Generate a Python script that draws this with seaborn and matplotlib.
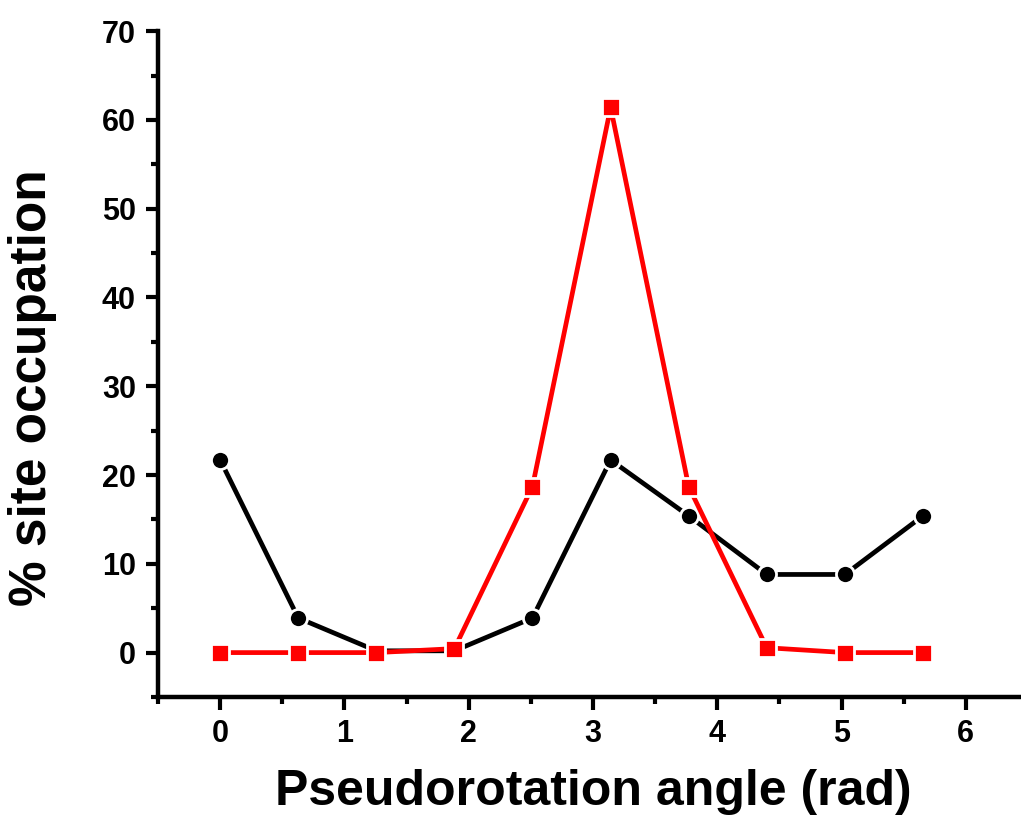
import matplotlib
matplotlib.use('Agg')
import matplotlib.pyplot as plt
from matplotlib.ticker import MultipleLocator
import seaborn as sns
import numpy as np
import pandas as pd

# pseudorotation angles (rad)
angles = [0.0, 0.628, 1.257, 1.885, 2.513, 3.142, 3.770, 4.398, 5.027, 5.655]
black_occ = [21.7, 3.9, 0.2, 0.2, 3.9, 21.7, 15.4, 8.8, 8.8, 15.4]
red_occ = [0.0, 0.0, 0.0, 0.45, 18.7, 61.4, 18.7, 0.55, 0.0, 0.0]

sns.set_style('white')
plt.rcParams['font.family'] = ['Liberation Sans', 'DejaVu Sans']
plt.rcParams['font.weight'] = 'bold'
plt.rcParams['text.color'] = 'black'
plt.rcParams['axes.labelcolor'] = 'black'
plt.rcParams['xtick.color'] = 'black'
plt.rcParams['ytick.color'] = 'black'

fig = plt.figure(figsize=(10.21, 8.17), dpi=100)
ax = fig.add_axes([0.1548, 0.1469, 0.852, 0.815])

sns.lineplot(x=angles, y=black_occ, ax=ax, color='black', lw=3.4, sort=False,
             marker='o', markersize=13, markeredgecolor='white', markeredgewidth=2,
             markerfacecolor='black', zorder=3)
sns.lineplot(x=angles, y=red_occ, ax=ax, color='red', lw=3.4, sort=False,
             marker='s', markersize=12.5, markeredgecolor='white', markeredgewidth=2,
             markerfacecolor='red', zorder=4)

ax.set_xlim(-0.5, 6.5)
ax.set_ylim(-5, 70)
ax.xaxis.set_major_locator(MultipleLocator(1))
ax.xaxis.set_minor_locator(MultipleLocator(0.5))
ax.yaxis.set_major_locator(MultipleLocator(10))
ax.yaxis.set_minor_locator(MultipleLocator(5))

for s in ['top', 'right']:
    ax.spines[s].set_visible(False)
for s in ['left', 'bottom']:
    ax.spines[s].set_linewidth(3.2)
    ax.spines[s].set_color('black')

ax.tick_params(which='major', direction='out', length=9, width=3, colors='black',
               labelsize=22, pad=7, left=True, bottom=True)
ax.tick_params(which='minor', direction='out', length=5, width=3, colors='black',
               left=True, bottom=True)
for lbl in ax.get_xticklabels() + ax.get_yticklabels():
    lbl.set_fontweight('bold')

ax.set_xlabel('Pseudorotation angle (rad)', fontsize=36, fontweight='bold',
              labelpad=14, color='black')
ax.set_ylabel('% site occupation', fontsize=37, fontweight='bold', color='black')
ax.yaxis.set_label_coords(-0.116, 0.465)

fig.savefig('out.png', dpi=100)
